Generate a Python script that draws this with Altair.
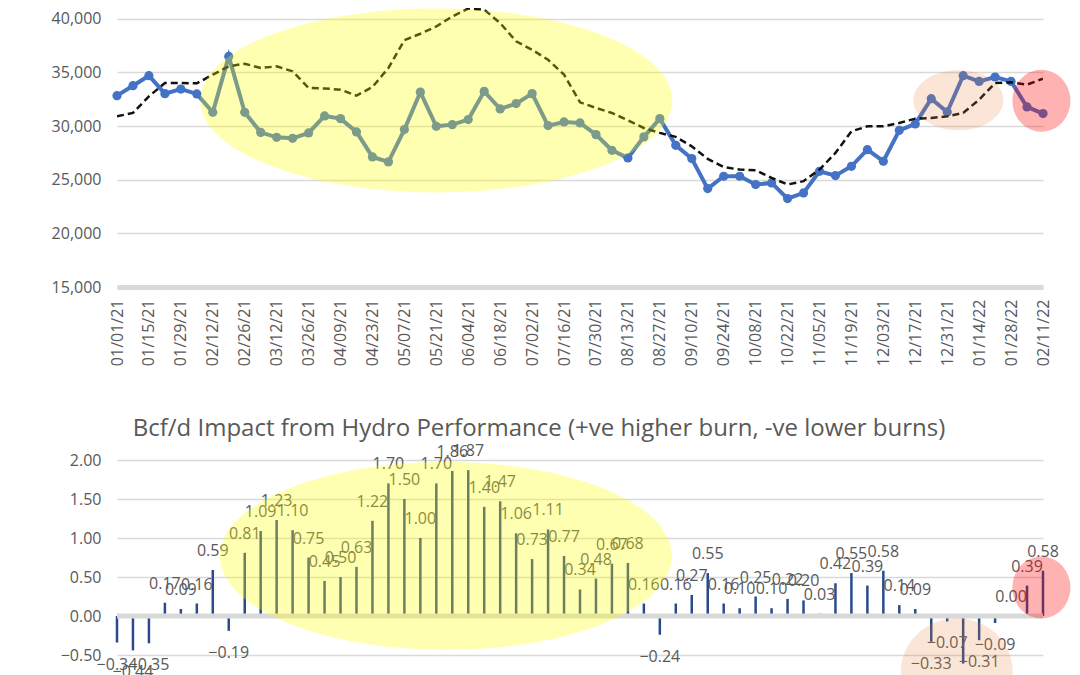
import json
import altair as alt
import pandas as pd

# ---------------- data ----------------
week_labels = [d.strftime("%m/%d/%y") for d in pd.date_range("2021-01-01", periods=59, freq="7D")]

burn = [32830, 33760, 34690, 33020, 33450, 32990, 31280, 36490, 31280, 29410,
        28950, 28860, 29360, 30940, 30690, 29450, 27120, 26660, 29670, 33160,
        29970, 30130, 30600, 33230, 31590, 32090, 33020, 30040, 30380, 30290,
        29200, 27740, 27030, 28990, 30690, 28200, 26970, 24170, 25320, 25320,
        24550, 24700, 23240, 23770, 25780, 25380, 26250, 27800, 26720, 29600,
        30200, 32550, 31310, 34690, 34160, 34570, 34160, 31780, 31160]

burn_avg = [30905, 31220, 32770, 34010, 34010, 33980, 34790, 35560, 35810, 35410,
            35560, 35100, 33550, 33500, 33390, 32830, 33640, 35410, 38000, 38600,
            39280, 40210, 40950, 40840, 39600, 37890, 37110, 36180, 34790, 32210,
            31690, 31220, 30530, 29820, 29360, 28990, 28110, 26940, 26180, 25940,
            25880, 25170, 24550, 24860, 25940, 27490, 29510, 29970, 29970, 30290,
            30690, 30750, 30900, 31220, 32460, 34010, 34070, 33860, 34410]

impact = [-0.34, -0.44, -0.35, 0.17, 0.09, 0.16, 0.59, -0.19, 0.81, 1.09,
          1.23, 1.10, 0.75, 0.45, 0.50, 0.63, 1.22, 1.70, 1.50, 1.00,
          1.70, 1.86, 1.87, 1.40, 1.47, 1.06, 0.73, 1.11, 0.77, 0.34,
          0.48, 0.67, 0.68, 0.16, -0.24, 0.16, 0.27, 0.55, 0.16, 0.10,
          0.25, 0.10, 0.22, 0.20, 0.03, 0.42, 0.55, 0.39, 0.58, 0.14,
          0.09, -0.33, -0.07, -0.61, -0.31, -0.09, 0.00, 0.39, 0.58]

top_y_ticks = [15000, 20000, 25000, 30000, 35000, 40000]
bottom_y_ticks = [-1.0, -0.5, 0.0, 0.5, 1.0, 1.5, 2.0]
title_text = "Bcf/d Impact from Hydro Performance (+ve higher burn, -ve lower burns)"

weeks = list(range(len(week_labels)))
df_burn = pd.DataFrame({"w": weeks, "v": burn})
df_avg = pd.DataFrame({"w": weeks, "v": burn_avg})
df_imp = pd.DataFrame({"w": weeks, "v": impact})

FONT = "Open Sans"
GREY = "#595959"
BLUE = "#4472C4"

xs = alt.Scale(domain=[0, 58], nice=False, zero=False)
ys_top = alt.Scale(domain=[15000, 41000], nice=False, zero=False)
ys_bot = alt.Scale(domain=[-1.0, 2.0], nice=False, zero=False)

label_expr = json.dumps(week_labels) + "[datum.value]"

x_top_axis = alt.Axis(values=weeks[::2], labelExpr=label_expr, labelAngle=270,
                      labelFont=FONT, labelFontSize=16, labelColor=GREY,
                      labelOverlap=False, labelFlush=False, labelBound=False,
                      grid=False, ticks=False, tickSize=0, labelPadding=12,
                      domainColor="#D9D9D9", domainWidth=5, title=None)
y_top_axis = alt.Axis(values=top_y_ticks, format=",.0f", labelFont=FONT, labelFontSize=16,
                      labelColor=GREY, domain=False, ticks=False, tickSize=0,
                      labelPadding=16, gridColor="#D9D9D9", gridWidth=1.5,
                      minExtent=109, maxExtent=109, title=None)
y_bot_axis = alt.Axis(values=bottom_y_ticks, format=".2f", labelFont=FONT, labelFontSize=16,
                      labelColor=GREY, domain=False, ticks=False, tickSize=0,
                      labelPadding=16, gridColor="#D9D9D9", gridWidth=1.5,
                      minExtent=109, maxExtent=109, title=None)


def ellipse(week_pos, value, rx, ry, color, opacity, xaxis, yscale, yaxis, clip=False):
    r = ry / rx
    path = f"M -1 0 A 1 {r:.4f} 0 1 1 1 0 A 1 {r:.4f} 0 1 1 -1 0 Z"
    return alt.Chart(pd.DataFrame({"w": [week_pos], "v": [value]})).mark_point(
        shape=path, size=(2 * rx) ** 2, filled=True, fill=color,
        opacity=opacity, strokeWidth=0, clip=clip
    ).encode(x=alt.X("w:Q", scale=xs, axis=xaxis, title=None),
             y=alt.Y("v:Q", scale=yscale, axis=yaxis, title=None))


# ---------------- top chart ----------------
line = alt.Chart(df_burn).mark_line(
    color=BLUE, strokeWidth=4,
    point=alt.OverlayMarkDef(size=85, filled=True, color=BLUE, opacity=1)
).encode(x=alt.X("w:Q", scale=xs, axis=x_top_axis, title=None),
         y=alt.Y("v:Q", scale=ys_top, axis=y_top_axis, title=None))

dashed = alt.Chart(df_avg).mark_line(
    color="#111111", strokeWidth=2.5, strokeDash=[7, 4], clip=True
).encode(x=alt.X("w:Q", scale=xs, axis=x_top_axis, title=None),
         y=alt.Y("v:Q", scale=ys_top, axis=y_top_axis, title=None))

top = alt.layer(
    line, dashed,
    ellipse(20.0, 32390, 236, 92, "#FFFF00", 0.3, x_top_axis, ys_top, y_top_axis, clip=True),
    ellipse(52.7, 32410, 45, 30, "#ED7D31", 0.2, x_top_axis, ys_top, y_top_axis),
    ellipse(57.9, 32350, 29, 31, "#FF0000", 0.3, x_top_axis, ys_top, y_top_axis),
).properties(width=926, height=279)

# ---------------- bottom chart ----------------
bars = alt.Chart(df_imp).mark_rule(color="#2A4A8A", strokeWidth=2.5, strokeCap="butt").encode(
    x=alt.X("w:Q", scale=xs, axis=None, title=None),
    y=alt.Y("v:Q", scale=ys_bot, axis=y_bot_axis, title=None),
    y2=alt.datum(0),
)

zero_line = alt.Chart(pd.DataFrame({"v": [0.0]})).mark_rule(
    color="#D9D9D9", strokeWidth=5
).encode(y=alt.Y("v:Q", scale=ys_bot, axis=y_bot_axis, title=None))

pos_labels = alt.Chart(df_imp).transform_filter("datum.v >= 0").mark_text(
    font=FONT, fontSize=16, color=GREY, baseline="middle", dy=-19
).encode(x=alt.X("w:Q", scale=xs, axis=None, title=None),
         y=alt.Y("v:Q", scale=ys_bot, axis=y_bot_axis, title=None),
         text=alt.Text("v:Q", format=".2f"))

neg_labels = alt.Chart(df_imp).transform_filter("datum.v < 0").mark_text(
    font=FONT, fontSize=16, color=GREY, baseline="middle", dy=22
).encode(x=alt.X("w:Q", scale=xs, axis=None, title=None),
         y=alt.Y("v:Q", scale=ys_bot, axis=y_bot_axis, title=None),
         text=alt.Text("v:Q", format=".2f"))

bottom = alt.layer(
    bars, zero_line, pos_labels, neg_labels,
    ellipse(20.6, 0.77, 226, 94, "#FFFF00", 0.3, None, ys_bot, y_bot_axis, clip=True),
    ellipse(52.6, -0.72, 56, 54, "#ED7D31", 0.2, None, ys_bot, y_bot_axis, clip=True),
    ellipse(57.9, 0.365, 29, 31, "#FF0000", 0.3, None, ys_bot, y_bot_axis),
).properties(
    width=926, height=234,
    title=alt.TitleParams(text=title_text, font=FONT, fontSize=24, fontWeight="normal",
                          color=GREY, anchor="middle", dx=-41, offset=-17,
                          baseline="alphabetic", frame="group"),
)

chart = alt.vconcat(top, bottom, spacing=51).properties(padding=0).configure_view(
    stroke=None
).configure_axis(labelFont=FONT, labelOverlap=False)

chart.save("out.html", embed_options={"renderer": "svg", "actions": False})
